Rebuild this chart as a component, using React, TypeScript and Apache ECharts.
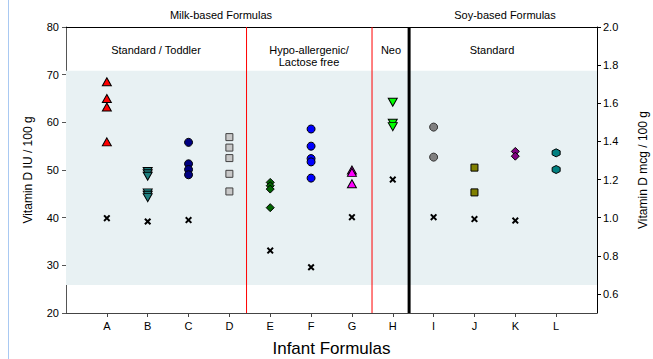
import React, { useEffect, useRef } from 'react';
import * as echarts from 'echarts';

// ---- data (Vitamin D IU / 100 g) ----
const categories = ['A', 'B', 'C', 'D', 'E', 'F', 'G', 'H', 'I', 'J', 'K', 'L'];
const formulaA = [68.5, 65.0, 63.2, 55.9];
const formulaB = [49.7, 49.2, 48.7, 45.2, 44.7, 44.2];
const formulaC = [55.8, 51.3, 50.1, 49.0];
const formulaD = [56.9, 54.7, 52.5, 49.2, 45.5];
const formulaE = [47.4, 46.7, 46.0, 42.1];
const formulaF = [58.6, 55.0, 52.4, 51.7, 48.3];
const formulaG = [50.0, 49.5, 47.1];
const formulaH = [64.2, 59.8, 59.1];
const formulaI = [59.0, 52.7];
const formulaJ = [50.5, 45.3];
const formulaK = [53.9, 52.9];
const formulaL = [53.6, 50.1];
const labelledValues = [39.9, 39.2, 39.5, null, 33.1, 29.6, 40.1, 48.0, 40.1, 39.7, 39.4, null];
const leftTicks = [20, 30, 40, 50, 60, 70, 80];
const rightTicks = [0.6, 0.8, 1.0, 1.2, 1.4, 1.6, 1.8, 2.0];
const bandRange = [25.9, 70.8];
const groupDividers = [4.42, 7.492];
const soyDivider = 8.4;

const xPath = 'path://M0,2 L2,0 L5,3 L8,0 L10,2 L7,5 L10,8 L8,10 L5,7 L2,10 L0,8 L3,5 Z';
const hexPath = 'path://M5,0 L9.33,2.5 L9.33,7.5 L5,10 L0.67,7.5 L0.67,2.5 Z';

const groups = [
  { values: formulaA, symbol: 'triangle', rotate: 0, color: '#ff0000', border: '#000', size: [9, 8] },
  { values: formulaB, symbol: 'triangle', rotate: 180, color: '#1f7f7f', border: '#000', size: [9, 8] },
  { values: formulaC, symbol: 'circle', rotate: 0, color: '#000080', border: '#000', size: 8 },
  { values: formulaD, symbol: 'rect', rotate: 0, color: '#c8c8c8', border: '#404040', size: 7 },
  { values: formulaE, symbol: 'diamond', rotate: 0, color: '#006400', border: '#000', size: 8 },
  { values: formulaF, symbol: 'circle', rotate: 0, color: '#0000ff', border: '#000', size: 8 },
  { values: formulaG, symbol: 'triangle', rotate: 0, color: '#ff00ff', border: '#000', size: [9, 8] },
  { values: formulaH, symbol: 'triangle', rotate: 180, color: '#00ff00', border: '#000', size: [9, 8] },
  { values: formulaI, symbol: 'circle', rotate: 0, color: '#808080', border: '#333', size: 8 },
  { values: formulaJ, symbol: 'rect', rotate: 0, color: '#808000', border: '#000', size: 7 },
  { values: formulaK, symbol: 'diamond', rotate: 0, color: '#800080', border: '#000', size: 8 },
  { values: formulaL, symbol: hexPath, rotate: 0, color: '#008080', border: '#000', size: 8 },
];

const FONT = 'Liberation Sans, Arial, sans-serif';

export default function App() {
  const ref = useRef<HTMLDivElement>(null);
  useEffect(() => {
    if (!ref.current) return;
    const chart = echarts.init(ref.current, undefined, { renderer: 'svg' });
    const positions = categories.map((_, i) => i + 1);
    const yMin = leftTicks[0];
    const yMax = leftTicks[leftTicks.length - 1];

    const series: any[] = [];
    series.push({
      type: 'scatter',
      name: 'band',
      data: [],
      z: 1,
      silent: true,
      markArea: {
        silent: true,
        label: { show: false },
        itemStyle: { color: '#e8f1f3' },
        data: [[{ yAxis: bandRange[0] }, { yAxis: bandRange[1] }]],
      },
    });
    groupDividers.forEach((d, i) => {
      series.push({
        type: 'line',
        name: 'divider' + i,
        z: 2,
        silent: true,
        symbol: 'none',
        color: '#ff0000',
        lineStyle: { color: '#ff0000', width: 1, type: 'solid' },
        emphasis: { disabled: true },
        data: [[d, yMin], [d, yMax]],
      });
    });
    series.push({
      type: 'line',
      name: 'soyDivider',
      z: 2,
      silent: true,
      symbol: 'none',
      color: '#000000',
      lineStyle: { color: '#000000', width: 3, type: 'solid' },
      emphasis: { disabled: true },
      data: [[soyDivider, yMin], [soyDivider, yMax]],
    });
    groups.forEach((g, i) => {
      series.push({
        type: 'scatter',
        name: categories[i],
        z: 4,
        symbol: g.symbol,
        symbolRotate: g.rotate,
        symbolSize: g.size,
        itemStyle: { color: g.color, borderColor: g.border, borderWidth: 1, opacity: 1 },
        data: g.values.map((v) => [positions[i], v]),
      });
    });
    series.push({
      type: 'scatter',
      name: 'labelled',
      z: 5,
      symbol: xPath,
      symbolSize: 7,
      itemStyle: { color: '#000', opacity: 1 },
      data: labelledValues
        .map((v, i) => (v == null ? null : [positions[i], v]))
        .filter((d) => d != null),
    });

    const headerStyle = { fill: '#000', fontSize: 11, fontFamily: FONT };

    chart.setOption({
      animation: false,
      textStyle: { fontFamily: FONT },
      grid: { left: 66, right: 56, top: 27, bottom: 46, containLabel: false, outerBoundsMode: 'none' },
      xAxis: [
        {
          type: 'value',
          min: 0,
          max: 13,
          position: 'bottom',
          name: 'Infant Formulas',
          nameLocation: 'middle',
          nameGap: 27,
          nameTextStyle: { fontSize: 17, color: '#000', fontFamily: FONT },
          axisLine: { show: true, onZero: false, lineStyle: { color: '#444', width: 1 } },
          axisTick: { show: true, length: 4, customValues: positions, lineStyle: { color: '#444' } },
          axisLabel: {
            customValues: positions,
            formatter: (v: number) => categories[Math.round(v) - 1] ?? '',
            color: '#000',
            fontSize: 11,
            margin: 7,
            fontFamily: FONT,
          },
          splitLine: { show: false },
        },
        {
          type: 'value',
          min: 0,
          max: 13,
          position: 'top',
          axisLine: { show: true, onZero: false, lineStyle: { color: '#000', width: 1 } },
          axisTick: { show: false },
          axisLabel: { show: false },
          splitLine: { show: false },
        },
      ],
      yAxis: [
        {
          type: 'value',
          min: yMin,
          max: yMax,
          interval: 10,
          position: 'left',
          name: 'Vitamin D IU / 100 g',
          nameLocation: 'middle',
          nameRotate: 90,
          nameGap: 32,
          nameTextStyle: { fontSize: 12, color: '#000', fontFamily: FONT },
          axisLine: { show: true, onZero: false, lineStyle: { color: '#555', width: 1 } },
          axisTick: { show: true, length: 4, inside: false, lineStyle: { color: '#555' } },
          axisLabel: { color: '#000', fontSize: 11, margin: 7, fontFamily: FONT },
          splitLine: { show: false },
        },
        {
          type: 'value',
          min: 0.5,
          max: 2.0,
          position: 'right',
          name: 'Vitamin D mcg / 100 g',
          nameLocation: 'middle',
          nameRotate: 90,
          nameGap: 40,
          nameTextStyle: { fontSize: 12, color: '#000', fontFamily: FONT },
          axisLine: { show: true, onZero: false, lineStyle: { color: '#000', width: 1 } },
          axisTick: { show: true, length: 4, customValues: rightTicks, lineStyle: { color: '#000' } },
          axisLabel: {
            customValues: rightTicks,
            formatter: (v: number) => v.toFixed(1),
            color: '#000',
            fontSize: 11,
            margin: 6,
            fontFamily: FONT,
          },
          splitLine: { show: false },
        },
      ],
      graphic: [
        { type: 'line', shape: { x1: 8.5, y1: 0, x2: 8.5, y2: 359 }, style: { stroke: '#a9c9f2', lineWidth: 1 } },
        { type: 'text', x: 221, y: 15, style: { ...headerStyle, text: 'Milk-based Formulas', align: 'center', verticalAlign: 'middle' } },
        { type: 'text', x: 505, y: 15, style: { ...headerStyle, text: 'Soy-based Formulas', align: 'center', verticalAlign: 'middle' } },
        { type: 'text', x: 156, y: 50, style: { ...headerStyle, text: 'Standard / Toddler', align: 'center', verticalAlign: 'middle' } },
        { type: 'text', x: 309, y: 56, style: { ...headerStyle, text: 'Hypo-allergenic/\nLactose free', align: 'center', verticalAlign: 'middle', lineHeight: 12 } },
        { type: 'text', x: 391, y: 50, style: { ...headerStyle, text: 'Neo', align: 'center', verticalAlign: 'middle' } },
        { type: 'text', x: 492, y: 50, style: { ...headerStyle, text: 'Standard', align: 'center', verticalAlign: 'middle' } },
      ],
      series,
    });
    return () => chart.dispose();
  }, []);
  return <div ref={ref} style={{ position: 'fixed', left: 0, top: 0, width: 653, height: 359, background: '#fff' }} />;
}
